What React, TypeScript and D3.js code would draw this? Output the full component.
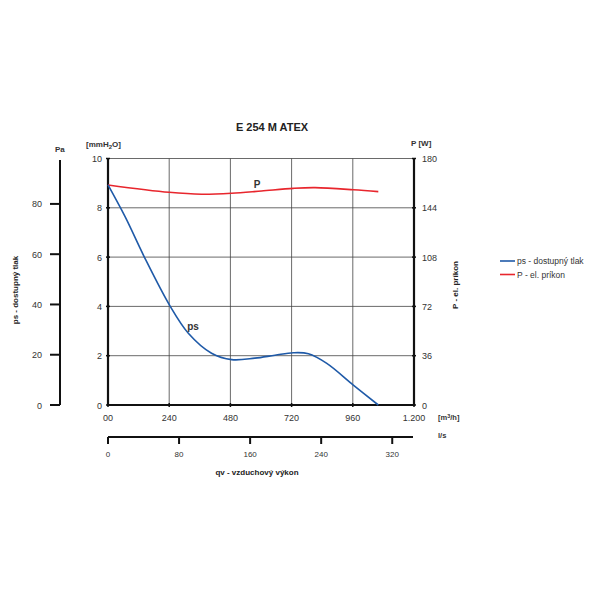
import React from "react";
import * as d3 from "d3";

const flowTicks = [0, 240, 480, 720, 960, 1200];
const flowTickLabels = ["00", "240", "480", "720", "960", "1.200"];
const psTicks = [0, 2, 4, 6, 8, 10];
const paTicks = [0, 20, 40, 60, 80];
const powerTicks = [0, 36, 72, 108, 144, 180];
const lsTicks = [0, 80, 160, 240, 320];

const psFlow = [0, 67, 145, 243, 315, 406, 485, 576, 655, 727, 786, 858, 962, 1060];
const psValues = [8.93, 7.64, 5.95, 4.02, 2.91, 2.1, 1.84, 1.9, 2.02, 2.12, 2.08, 1.69, 0.81, 0.0];

const pFlow = [0, 240, 367, 485, 602, 727, 812, 962, 1060];
const pValues = [160.7, 155.3, 153.9, 154.6, 156.3, 158.2, 158.7, 157.2, 155.8];

const PA_PER_MMH2O = 9.807;

export default function App() {
  const x = d3.scaleLinear().domain([0, 1200]).range([108, 414]);
  const y = d3.scaleLinear().domain([0, 10]).range([405, 158.5]);
  const yPa = d3.scaleLinear().domain([0, 10 * PA_PER_MMH2O]).range([405, 158.5]);
  const yP = d3.scaleLinear().domain([0, 180]).range([405, 158.5]);
  const xLs = d3.scaleLinear().domain([0, 340]).range([108, 410]);

  const psLine = d3
    .line<number>()
    .x((_, i) => x(psFlow[i]))
    .y((d) => y(d))
    .curve(d3.curveCatmullRom.alpha(0.5));
  const pLine = d3
    .line<number>()
    .x((_, i) => x(pFlow[i]))
    .y((d) => yP(d))
    .curve(d3.curveCatmullRom.alpha(0.5));

  const font = "'Liberation Sans', Arial, sans-serif";
  const grid = "#444";
  const txt = "#333";
  const blue = "#1f5aa8";
  const red = "#e8262d";

  return (
    <svg
      width={600}
      height={600}
      style={{ position: "absolute", left: 0, top: 0, background: "#fff" }}
      fontFamily={font}
    >
      {/* title */}
      <text x={272} y={131} textAnchor="middle" fontSize={11} fontWeight="bold" fill="#222">
        E 254 M ATEX
      </text>

      {/* grid */}
      {flowTicks.slice(1, 5).map((t) => (
        <line key={"vg" + t} x1={x(t)} x2={x(t)} y1={y(10)} y2={y(0)} stroke={grid} strokeWidth={0.8} />
      ))}
      {psTicks.slice(1).map((t) => (
        <line key={"hg" + t} x1={x(0)} x2={x(1200)} y1={y(t)} y2={y(t)} stroke={grid} strokeWidth={0.8} />
      ))}

      {/* main axes */}
      <line x1={x(0)} x2={x(0)} y1={y(10)} y2={y(0)} stroke="#111" strokeWidth={2.2} />
      <line x1={x(1200)} x2={x(1200)} y1={y(10)} y2={y(0)} stroke="#111" strokeWidth={2.2} />
      <line x1={x(0) - 1} x2={x(1200) + 1} y1={y(0)} y2={y(0)} stroke="#111" strokeWidth={2.2} />

      {/* left ticks */}
      {psTicks.map((t) => (
        <g key={"lt" + t}>
          <line x1={x(0) - 2} x2={x(0) + 2} y1={y(t)} y2={y(t)} stroke="#111" strokeWidth={1.5} />
          <text x={102} y={y(t) + 3.5} textAnchor="end" fontSize={9} fill={txt}>
            {t}
          </text>
        </g>
      ))}
      {/* right ticks */}
      {powerTicks.map((t) => (
        <g key={"rt" + t}>
          <line x1={x(1200) - 2} x2={x(1200) + 2} y1={yP(t)} y2={yP(t)} stroke="#111" strokeWidth={1.5} />
          <text x={422} y={yP(t) + 3.5} textAnchor="start" fontSize={9} fill={txt}>
            {t}
          </text>
        </g>
      ))}
      {/* bottom ticks */}
      {flowTicks.map((t, i) => (
        <g key={"bt" + t}>
          <line x1={x(t)} x2={x(t)} y1={y(0) - 2} y2={y(0) + 2} stroke="#111" strokeWidth={1.5} />
          <text x={x(t)} y={421} textAnchor="middle" fontSize={9} fill={txt}>
            {flowTickLabels[i]}
          </text>
        </g>
      ))}

      {/* unit labels */}
      <text x={86} y={147} fontSize={8} fontWeight="bold" fill={txt}>
        [mmH<tspan fontSize={6} dy={2}>2</tspan>
        <tspan dy={-2}>O]</tspan>
      </text>
      <text x={411} y={146} fontSize={8} fontWeight="bold" fill={txt}>
        P [W]
      </text>
      <text x={438} y={420} fontSize={7.5} fontWeight="bold" fill={txt}>
        [m<tspan fontSize={5.5} dy={-2.5}>3</tspan>
        <tspan dy={2.5}>/h]</tspan>
      </text>
      <text x={438} y={438} fontSize={7.5} fontWeight="bold" fill={txt}>
        l/s
      </text>

      {/* Pa axis */}
      <text x={55} y={152} fontSize={8} fontWeight="bold" fill={txt}>
        Pa
      </text>
      <line x1={60} x2={60} y1={160} y2={yPa(0)} stroke="#111" strokeWidth={2} />
      {paTicks.map((t) => (
        <g key={"pa" + t}>
          <line x1={50} x2={60} y1={yPa(t)} y2={yPa(t)} stroke="#111" strokeWidth={2} />
          <text x={42} y={yPa(t) + 3.5} textAnchor="end" fontSize={9} fill={txt}>
            {t}
          </text>
        </g>
      ))}
      <text
        transform="translate(18,290) rotate(-90)"
        textAnchor="middle"
        fontSize={8}
        fontWeight="bold"
        fill="#222"
      >
        ps - dostupný tlak
      </text>
      <text
        transform="translate(458,285) rotate(-90)"
        textAnchor="middle"
        fontSize={8}
        fontWeight="bold"
        fill="#222"
      >
        P - el. príkon
      </text>

      {/* l/s axis */}
      <line x1={xLs(0)} x2={413} y1={437} y2={437} stroke="#111" strokeWidth={2} />
      {lsTicks.map((t) => (
        <g key={"ls" + t}>
          <line x1={xLs(t)} x2={xLs(t)} y1={437} y2={444} stroke="#111" strokeWidth={2} />
          <text x={xLs(t)} y={457} textAnchor="middle" fontSize={8} fill={txt}>
            {t}
          </text>
        </g>
      ))}
      <text x={257} y={475} textAnchor="middle" fontSize={8} fontWeight="bold" fill="#222">
        qv - vzduchový výkon
      </text>

      {/* curves */}
      <path d={pLine(pValues) || ""} fill="none" stroke={red} strokeWidth={1.6} />
      <path d={psLine(psValues) || ""} fill="none" stroke={blue} strokeWidth={1.6} />
      <text x={257} y={188} textAnchor="middle" fontSize={10} fontWeight="bold" fill="#333">
        P
      </text>
      <text x={193} y={330} textAnchor="middle" fontSize={10} fontWeight="bold" fill="#333">
        ps
      </text>

      {/* legend */}
      <line x1={500} x2={515} y1={261} y2={261} stroke={blue} strokeWidth={1.6} />
      <text x={517} y={264} fontSize={8.5} fill={txt}>
        ps - dostupný tlak
      </text>
      <line x1={500} x2={515} y1={274.5} y2={274.5} stroke={red} strokeWidth={1.6} />
      <text x={517} y={277.5} fontSize={8.5} fill={txt}>
        P - el. príkon
      </text>
    </svg>
  );
}
